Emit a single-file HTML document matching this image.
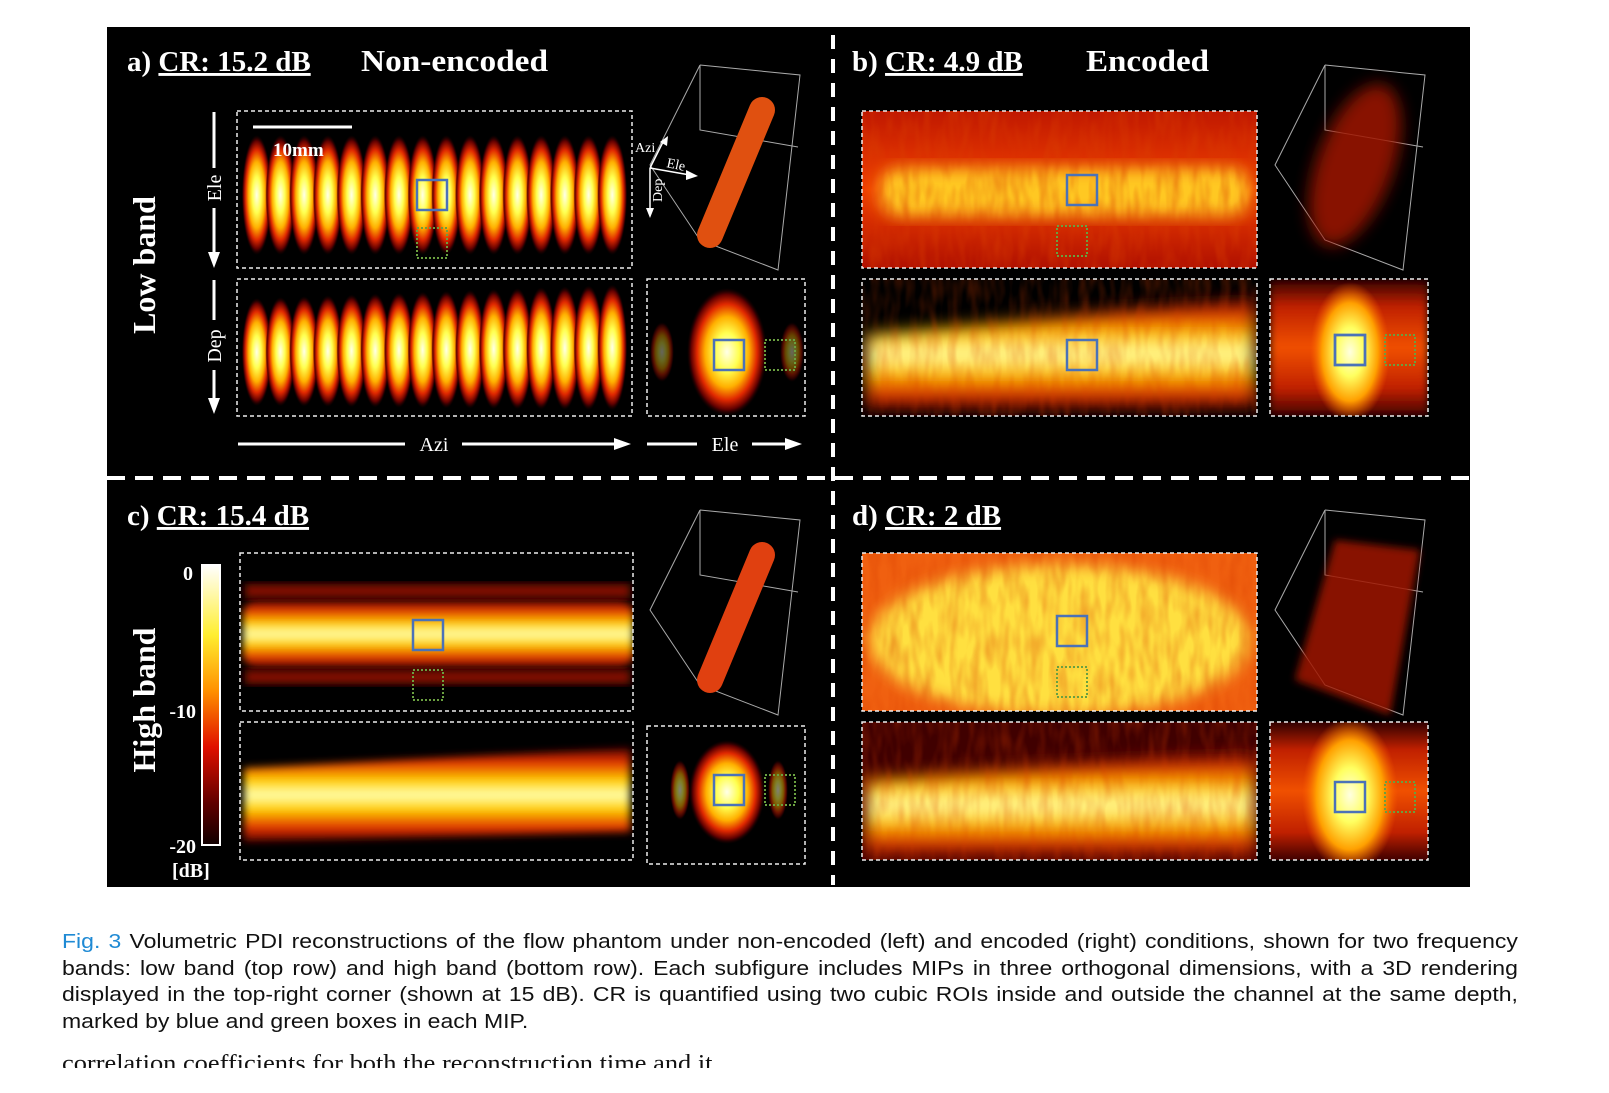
<!DOCTYPE html>
<html><head><meta charset="utf-8"><style>
html,body{margin:0;padding:0;background:#fff;width:1609px;height:1093px;overflow:hidden;position:relative}
svg{position:absolute;left:0;top:0}
#cap{position:absolute;left:62px;top:929px;width:1266px;font:20px/26.6px "Liberation Sans",Arial,sans-serif;color:#111;transform:scaleX(1.15);transform-origin:0 0}
#cap div{text-align:justify;text-align-last:justify;white-space:nowrap}
#cap div.last{text-align-last:left}
#cap span{color:#1f8ad4}
#cutbox{position:absolute;left:62px;top:1054px;height:14px;width:900px;overflow:hidden}
#cut{position:absolute;left:0;top:-3px;font:24px "Liberation Serif",serif;color:#111;white-space:nowrap;transform:scaleX(1.1);transform-origin:0 0}
.t{font-family:"Liberation Serif",serif;font-weight:bold;fill:#fff}
</style></head><body>
<svg id="fig" width="1609" height="1093" viewBox="0 0 1609 1093">
<defs>
<radialGradient id="hotR"><stop offset="0" stop-color="#ffffe8"/><stop offset=".3" stop-color="#ffff50"/><stop offset=".55" stop-color="#ffb000"/><stop offset=".75" stop-color="#e02800"/><stop offset=".9" stop-color="#600000"/><stop offset="1" stop-color="#200000" stop-opacity="0"/></radialGradient>
<radialGradient id="hotS"><stop offset="0" stop-color="#ffffe0"/><stop offset=".35" stop-color="#ffff60"/><stop offset=".7" stop-color="#ffa000"/><stop offset="1" stop-color="#ff6000" stop-opacity="0"/></radialGradient>
<linearGradient id="hotV" x1="0" y1="0" x2="0" y2="1"><stop offset="0" stop-color="#500000"/><stop offset=".15" stop-color="#e03000"/><stop offset=".35" stop-color="#ffd000"/><stop offset=".5" stop-color="#ffffb0"/><stop offset=".65" stop-color="#ffd000"/><stop offset=".85" stop-color="#e03000"/><stop offset="1" stop-color="#500000"/></linearGradient>
<linearGradient id="redV" x1="0" y1="0" x2="0" y2="1"><stop offset="0" stop-color="#c01800"/><stop offset=".5" stop-color="#f04000"/><stop offset="1" stop-color="#b01000"/></linearGradient>
<linearGradient id="sideV" x1="0" y1="0" x2="0" y2="1"><stop offset="0" stop-color="#300000"/><stop offset=".2" stop-color="#c02000"/><stop offset=".5" stop-color="#f05000"/><stop offset=".8" stop-color="#c02000"/><stop offset="1" stop-color="#400000"/></linearGradient>
<linearGradient id="cbar" x1="0" y1="0" x2="0" y2="1"><stop offset="0" stop-color="#fff"/><stop offset=".25" stop-color="#ffee30"/><stop offset=".45" stop-color="#ff9000"/><stop offset=".65" stop-color="#e01000"/><stop offset=".85" stop-color="#600000"/><stop offset="1" stop-color="#100000"/></linearGradient>
<filter id="blur4" x="-20%" y="-20%" width="140%" height="140%"><feGaussianBlur stdDeviation="4"/></filter>
<filter id="blur8" x="-20%" y="-20%" width="140%" height="140%"><feGaussianBlur stdDeviation="8"/></filter>
<filter id="noise"><feTurbulence type="fractalNoise" baseFrequency="0.1 0.03" numOctaves="2" seed="3"/><feColorMatrix values="0 0 0 0 0.7  0 0 0 0 0.05  0 0 0 0 0  1.4 0 0 0 -0.5"/></filter>
<clipPath id="cAT"><rect x="237" y="111" width="395" height="157"/></clipPath>
<clipPath id="cAB"><rect x="237" y="279" width="395" height="137"/></clipPath>
<clipPath id="cAS"><rect x="647" y="279" width="158" height="137"/></clipPath>
<clipPath id="cBT"><rect x="862" y="111" width="395" height="157"/></clipPath>
<clipPath id="cBB"><rect x="862" y="279" width="395" height="137"/></clipPath>
<clipPath id="cBS"><rect x="1270" y="279" width="158" height="137"/></clipPath>
<clipPath id="cCT"><rect x="240" y="553" width="393" height="158"/></clipPath>
<clipPath id="cCB"><rect x="240" y="722" width="393" height="138"/></clipPath>
<clipPath id="cCS"><rect x="647" y="726" width="158" height="138"/></clipPath>
<clipPath id="cDT"><rect x="862" y="553" width="395" height="158"/></clipPath>
<clipPath id="cDB"><rect x="862" y="722" width="395" height="138"/></clipPath>
<clipPath id="cDS"><rect x="1270" y="722" width="158" height="138"/></clipPath>
</defs>
<rect x="107" y="27" width="1363" height="860" fill="#000"/>
<g id="layers"></g>
<line x1="833" y1="35" x2="833" y2="885" stroke="#fff" stroke-width="4" stroke-dasharray="14 10"/>
<line x1="107" y1="478" x2="1470" y2="478" stroke="#fff" stroke-width="4" stroke-dasharray="18 10"/>
<text class="t" x="127" y="71" font-size="29">a) <tspan text-decoration="underline">CR: 15.2 dB</tspan></text>
<text class="t" x="361" y="71" font-size="31" textLength="187" lengthAdjust="spacingAndGlyphs">Non-encoded</text>
<text class="t" x="852" y="71" font-size="29">b) <tspan text-decoration="underline">CR: 4.9 dB</tspan></text>
<text class="t" x="1086" y="71" font-size="31" textLength="123" lengthAdjust="spacingAndGlyphs">Encoded</text>
<text class="t" x="127" y="525" font-size="29">c) <tspan text-decoration="underline">CR: 15.4 dB</tspan></text>
<text class="t" x="852" y="525" font-size="29">d) <tspan text-decoration="underline">CR: 2 dB</tspan></text>
<text class="t" font-size="32" transform="translate(155,265) rotate(-90)" text-anchor="middle">Low band</text>
<text class="t" font-size="32" transform="translate(155,700) rotate(-90)" text-anchor="middle">High band</text>
<line x1="253" y1="127" x2="352" y2="127" stroke="#fff" stroke-width="3"/>
<text class="t" x="273" y="156" font-size="19">10mm</text>
<g stroke="#fff" stroke-width="3" fill="#fff">
<line x1="214" y1="112" x2="214" y2="168"/><line x1="214" y1="208" x2="214" y2="254"/><polygon points="208,252 220,252 214,268" stroke="none"/>
<line x1="214" y1="280" x2="214" y2="320"/><line x1="214" y1="370" x2="214" y2="400"/><polygon points="208,398 220,398 214,414" stroke="none"/>
<line x1="238" y1="444" x2="405" y2="444"/><line x1="462" y1="444" x2="615" y2="444"/><polygon points="614,438 614,450 631,444" stroke="none"/>
<line x1="647" y1="444" x2="697" y2="444"/><line x1="752" y1="444" x2="786" y2="444"/><polygon points="785,438 785,450 802,444" stroke="none"/>
</g>
<text class="t" font-size="20" transform="translate(221,188) rotate(-90)" text-anchor="middle" style="font-weight:normal">Ele</text>
<text class="t" font-size="20" transform="translate(221,346) rotate(-90)" text-anchor="middle" style="font-weight:normal">Dep</text>
<text class="t" x="434" y="451" font-size="20" text-anchor="middle" style="font-weight:normal">Azi</text>
<text class="t" x="725" y="451" font-size="20" text-anchor="middle" style="font-weight:normal">Ele</text>
<g stroke="#fff" stroke-width="1.5" fill="#fff">
<line x1="650" y1="168" x2="664" y2="140"/><line x1="650" y1="168" x2="690" y2="175"/><line x1="650" y1="168" x2="650" y2="212"/>
<polygon points="660,142 668,136 667,146" stroke="none"/><polygon points="686,170 698,176 686,180" stroke="none"/><polygon points="646,208 654,208 650,218" stroke="none"/>
</g>
<text x="635" y="152" font-size="14" fill="#fff" font-family="Liberation Serif,serif">Azi</text>
<text x="666" y="167" font-size="14" fill="#fff" font-family="Liberation Serif,serif" transform="rotate(12 666 167)">Ele</text>
<text font-size="14" fill="#fff" font-family="Liberation Serif,serif" transform="translate(662,202) rotate(-90)">Dep</text>
<rect x="202" y="565" width="18" height="280" fill="url(#cbar)" stroke="#fff" stroke-width="2"/>
<text class="t" x="193" y="580" font-size="20" text-anchor="end">0</text>
<text class="t" x="196" y="718" font-size="20" text-anchor="end">-10</text>
<text class="t" x="196" y="853" font-size="20" text-anchor="end">-20</text>
<text class="t" x="172" y="877" font-size="20">[dB]</text>
</svg>
<div id="cap">
<div><span>Fig. 3</span> Volumetric PDI reconstructions of the flow phantom under non-encoded (left) and encoded (right) conditions, shown for two frequency</div>
<div>bands: low band (top row) and high band (bottom row). Each subfigure includes MIPs in three orthogonal dimensions, with a 3D rendering</div>
<div>displayed in the top-right corner (shown at 15 dB). CR is quantified using two cubic ROIs inside and outside the channel at the same depth,</div>
<div class="last">marked by blue and green boxes in each MIP.</div>
</div>
<div id="cutbox"><div id="cut">correlation coefficients for both the reconstruction time and it</div></div>
<script>
const NS='http://www.w3.org/2000/svg';
const layers=document.getElementById('layers');
function mk(tag,attrs,parent){const e=document.createElementNS(NS,tag);for(const k in attrs)e.setAttribute(k,attrs[k]);(parent||layers).appendChild(e);return e;}
const blobFrac=[0.05,0.11,0.17,0.23,0.29,0.35,0.41,0.47,0.53,0.59,0.65,0.71,0.77,0.83,0.89,0.95];
const boxes=[
 ['cAT',237,111,395,157],['cAB',237,279,395,137],['cAS',647,279,158,137],
 ['cBT',862,111,395,157],['cBB',862,279,395,137],['cBS',1270,279,158,137],
 ['cCT',240,553,393,158],['cCB',240,722,393,138],['cCS',647,726,158,138],
 ['cDT',862,553,395,158],['cDB',862,722,395,138],['cDS',1270,722,158,138]];
function grp(id){const g=mk('g',{'clip-path':'url(#'+id+')'});return g;}
let g=grp('cAT');
blobFrac.forEach(f=>{const e=mk('ellipse',{cx:237+f*395,cy:195,rx:15,ry:60,fill:'url(#hotR)'},g);});
g=grp('cAB');
blobFrac.forEach((f,i)=>{const e=mk('ellipse',{cx:237+f*395,cy:352-i*0.3,rx:15,ry:54+i*0.6,fill:'url(#hotR)'},g);});
g=grp('cAS');
mk('ellipse',{cx:662,cy:352,rx:12,ry:30,fill:'url(#hotR)',opacity:.4},g);
mk('ellipse',{cx:792,cy:352,rx:12,ry:30,fill:'url(#hotR)',opacity:.4},g);
mk('ellipse',{cx:727,cy:352,rx:40,ry:64,fill:'url(#hotR)'},g);
g=grp('cCT');
mk('rect',{x:245,y:584,width:385,height:14,fill:'#801000',filter:'url(#blur4)'},g);
mk('rect',{x:245,y:670,width:385,height:14,fill:'#801000',filter:'url(#blur4)'},g);
mk('rect',{x:243,y:600,width:390,height:68,rx:14,fill:'url(#hotV)',filter:'url(#blur4)'},g);
g=grp('cCB');
mk('polygon',{points:'244,768 630,748 630,832 244,842',fill:'url(#hotV)',filter:'url(#blur4)'},g);
g=grp('cCS');
mk('ellipse',{cx:680,cy:790,rx:10,ry:30,fill:'url(#hotR)',opacity:.5},g);
mk('ellipse',{cx:778,cy:790,rx:10,ry:30,fill:'url(#hotR)',opacity:.5},g);
mk('ellipse',{cx:727,cy:792,rx:38,ry:52,fill:'url(#hotR)'},g);
g=grp('cBT');
mk('rect',{x:862,y:111,width:395,height:157,fill:'url(#redV)'},g);
mk('rect',{x:880,y:168,width:370,height:48,rx:20,fill:'#ffc820',filter:'url(#blur8)'},g);
mk('rect',{x:862,y:111,width:395,height:157,filter:'url(#noise)',opacity:.6},g);
g=grp('cBB');
mk('polygon',{points:'866,335 1255,298 1255,408 866,410',fill:'url(#hotV)',filter:'url(#blur8)'},g);
mk('rect',{x:862,y:279,width:395,height:137,filter:'url(#noise)',opacity:.4},g);
g=grp('cBS');
mk('rect',{x:1270,y:279,width:158,height:137,fill:'url(#sideV)',filter:'url(#blur4)'},g);
mk('ellipse',{cx:1350,cy:352,rx:40,ry:70,fill:'url(#hotS)'},g);
g=grp('cDT');
mk('rect',{x:862,y:553,width:395,height:158,fill:'#f06010'},g);
mk('ellipse',{cx:1060,cy:640,rx:190,ry:75,fill:'#ffe040',filter:'url(#blur8)'},g);
mk('rect',{x:862,y:553,width:395,height:158,filter:'url(#noise)',opacity:.5},g);
g=grp('cDB');
mk('rect',{x:862,y:722,width:395,height:138,fill:'#400000'},g);
mk('polygon',{points:'866,780 1255,752 1255,858 866,858',fill:'url(#hotV)',filter:'url(#blur8)'},g);
mk('rect',{x:862,y:722,width:395,height:138,filter:'url(#noise)',opacity:.4},g);
g=grp('cDS');
mk('rect',{x:1270,y:722,width:158,height:138,fill:'url(#sideV)'},g);
mk('ellipse',{cx:1350,cy:795,rx:48,ry:78,fill:'url(#hotS)'},g);
boxes.forEach(b=>{const r=mk('rect',{x:b[1],y:b[2],width:b[3],height:b[4],fill:'none',stroke:'#eee','stroke-width':1.5,'stroke-dasharray':'4 3'});});
const renders=[[650,65,'#e05010',0],[1275,65,'#a01800',1],[650,510,'#e04010',0],[1275,510,'#a01400',2]];
renders.forEach(r=>{const x=r[0],y=r[1];
 const o=mk('polyline',{points:`${x+50},${y} ${x+150},${y+10} ${x+128},${y+205} ${x+50},${y+175} ${x},${y+100} ${x+50},${y}`,fill:'none',stroke:'#aaa','stroke-width':1});
 
 mk('polyline',{points:`${x+50},${y} ${x+50},${y+65} ${x+148},${y+82}`,fill:'none',stroke:'#aaa','stroke-width':1});
 let c;
 if(r[3]===0){c=mk('line',{x1:x+60,y1:y+170,x2:x+112,y2:y+45,stroke:r[2],'stroke-width':26,'stroke-linecap':'round'});}
 else if(r[3]===1){c=mk('ellipse',{cx:x+80,cy:y+100,rx:38,ry:85,fill:r[2],opacity:.85,filter:'url(#blur8)',transform:`rotate(20 ${x+80} ${y+100})`});}
 else{c=mk('polygon',{points:`${x+60},${y+30} ${x+145},${y+40} ${x+115},${y+205} ${x+20},${y+170}`,fill:r[2],opacity:.85,filter:'url(#blur4)'});}
 
});
const roiX=[417,1067,417,1057,1067,1335,714,1335,413,1057,413,1057,714,1335];
const roiY=[180,175,228,226,340,335,340,335,620,616,670,667,775,782];
const roiT=['b','b','g','g','b','b','b','b','b','b','g','g','b','b'];
const roiG=[[765,340],[1385,335],[765,775],[1385,782]];
roiX.forEach((x,i)=>{const s=roiT[i]==='b';const r=mk('rect',{x:x,y:roiY[i],width:30,height:30,fill:'none',stroke:s?'#4a72b8':'#6aa040','stroke-width':s?2.5:2,'stroke-dasharray':s?'none':'2 2'});});
roiG.forEach(p=>{const r=mk('rect',{x:p[0],y:p[1],width:30,height:30,fill:'none',stroke:'#6aa040','stroke-width':2,'stroke-dasharray':'2 2'});});
</script>
</body></html>
